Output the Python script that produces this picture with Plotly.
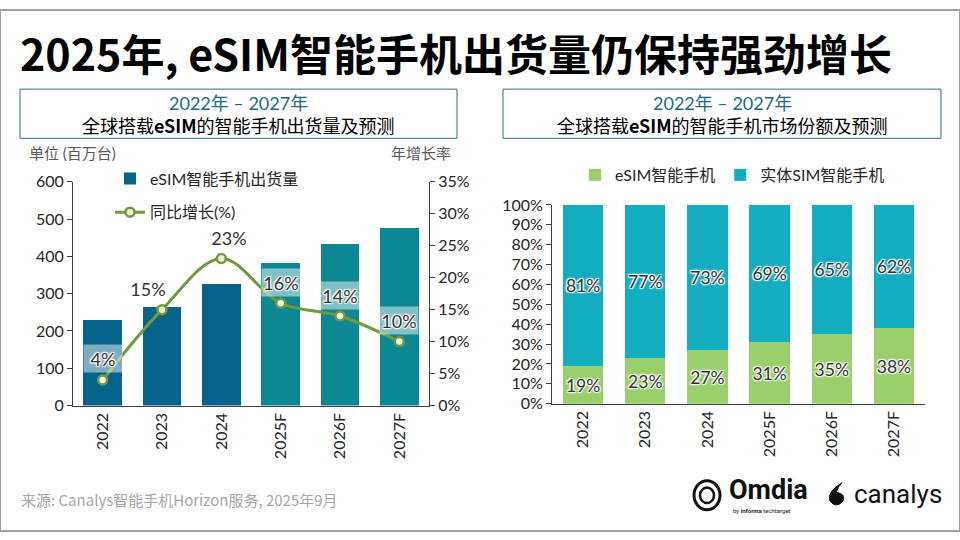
import plotly.graph_objects as go

# ---------------- data ----------------
years = ["2022", "2023", "2024", "2025F", "2026F", "2027F"]
shipments = [230, 264, 326, 381, 432, 476]          # million units
growth = [4, 15, 23, 16, 14, 10]                    # YoY %
esim_share = [19, 23, 27, 31, 35, 38]               # %
physical_share = [81, 77, 73, 69, 65, 62]           # %

W, H = 960, 540
def fx(px): return px / W
def fy(py): return 1 - py / H

FONT = "Lato, 'Noto Sans CJK SC', sans-serif"
CJK = "'Noto Sans CJK SC', sans-serif"
HALO = "1px 1px 1px #fff, -1px -1px 1px #fff, 1px -1px 1px #fff, -1px 1px 1px #fff, 0 0 3px #fff"

bar_colors = ["#05638c"] * 3 + ["#0b8894"] * 3

fig = go.Figure()

# ---- left chart ----
fig.add_trace(go.Bar(
    x=years, y=shipments, name="eSIM智能手机出货量",
    marker=dict(color=bar_colors, line=dict(width=0)),
    xaxis="x", yaxis="y", legend="legend", legendgroup="a",
))
fig.add_trace(go.Scatter(
    x=years, y=growth, name="同比增长(%)", mode="lines+markers",
    line=dict(color="#6f9a3d", width=3, shape="spline", smoothing=1),
    marker=dict(size=9, color="#eef4d6", line=dict(color="#6f9a3d", width=2.5)),
    xaxis="x", yaxis="y2", legend="legend", legendgroup="b",
))

# ---- right chart ----
for vals, name, col in [(esim_share, "eSIM智能手机", "#99d06b"),
                        (physical_share, "实体SIM智能手机", "#12adc1")]:
    fig.add_trace(go.Bar(
        x=years, y=vals, name=name,
        marker=dict(color=col, line=dict(width=0)),
        text=[f"{v}%" for v in vals], textposition="inside", textangle=0,
        insidetextanchor="middle",
        textfont=dict(size=18, color="#333333", family=FONT, shadow=HALO),
        xaxis="x3", yaxis="y3", legend="legend2",
    ))

axis_common = dict(
    showgrid=False, zeroline=False, showline=True, linecolor="#404040", linewidth=1,
    ticks="outside", ticklen=5, tickcolor="#404040",
    tickfont=dict(size=16, color="#262626", family=FONT),
)
xaxis_common = {**axis_common, "ticks": "", "type": "category", "tickangle": -90,
                "range": [-0.5, len(years) - 0.5], "autorange": False}

annotations = []
# growth labels (category index positions)
xshifts = [0, -14, 8, 0, 0, 0]
for i, g in enumerate(growth):
    annotations.append(dict(
        x=i, y=g, xref="x", yref="y2", text=f"{g}%", showarrow=False,
        yshift=21, xshift=xshifts[i], width=36, height=25,
        bgcolor="rgba(255,255,255,0.48)",
        font=dict(size=18, color="#333333", family=FONT, shadow=HALO),
    ))

# title
annotations.append(dict(
    x=fx(18), y=fy(44), xref="paper", yref="paper", xanchor="left", yanchor="middle",
    text="<b>2025年, eSIM智能手机出货量仍保持强劲增长</b>", showarrow=False,
    font=dict(size=43, color="#000000", family=CJK),
))
# box headers
for cx, line2 in [(238.5, "全球搭载<b>eSIM</b>的智能手机出货量及预测"),
                  (722, "全球搭载<b>eSIM</b>的智能手机市场份额及预测")]:
    annotations.append(dict(
        x=fx(cx), y=fy(96), xref="paper", yref="paper", xanchor="center", yanchor="middle",
        text="2022年 – 2027年", showarrow=False,
        font=dict(size=18, color="#1c6a86", family=FONT),
    ))
    annotations.append(dict(
        x=fx(cx), y=fy(119), xref="paper", yref="paper", xanchor="center", yanchor="middle",
        text=line2, showarrow=False,
        font=dict(size=18, color="#000000", family=CJK),
    ))
# axis titles
annotations.append(dict(
    x=fx(27), y=fy(148), xref="paper", yref="paper", xanchor="left", yanchor="middle",
    text="单位 (百万台)", showarrow=False, font=dict(size=15, color="#595959", family=FONT)))
annotations.append(dict(
    x=fx(453), y=fy(148), xref="paper", yref="paper", xanchor="right", yanchor="middle",
    text="年增长率", showarrow=False, font=dict(size=15, color="#595959", family=FONT)))
# footer
annotations.append(dict(
    x=fx(19), y=fy(507), xref="paper", yref="paper", xanchor="left", yanchor="middle",
    text="来源: Canalys智能手机Horizon服务, 2025年9月", showarrow=False,
    font=dict(size=15, color="#a6a6a6", family=CJK)))
annotations.append(dict(
    x=fx(727), y=fy(497), xref="paper", yref="paper", xanchor="left", yanchor="middle",
    text="<b>Omdia</b>", showarrow=False, font=dict(size=27, color="#111111", family="Roboto")))
annotations.append(dict(
    x=fx(731), y=fy(519), xref="paper", yref="paper", xanchor="left", yanchor="middle",
    text="by <b>informa</b> techtarget", showarrow=False, font=dict(size=6, color="#222222", family="Roboto")))
annotations.append(dict(
    x=fx(852), y=fy(502), xref="paper", yref="paper", xanchor="left", yanchor="middle",
    text="canalys", showarrow=False, font=dict(size=26, color="#111111", family="Roboto")))

shapes = [
    dict(type="rect", xref="paper", yref="paper", x0=0, x1=1, y0=0, y1=1,
         line=dict(color="#a0a0a0", width=2)),
    dict(type="rect", xref="paper", yref="paper", x0=fx(20), x1=fx(457), y0=fy(133), y1=fy(82),
         line=dict(color="#2f6f7e", width=1)),
    dict(type="rect", xref="paper", yref="paper", x0=fx(503), x1=fx(941), y0=fy(133), y1=fy(82),
         line=dict(color="#2f6f7e", width=1)),
    dict(type="circle", xref="paper", yref="paper", x0=fx(694), x1=fx(720), y0=fy(518), y1=fy(488),
         line=dict(color="#111111", width=3)),
    dict(type="circle", xref="paper", yref="paper", x0=fx(700), x1=fx(714), y0=fy(511), y1=fy(495),
         line=dict(color="#111111", width=2.5)),
    dict(type="path", xref="paper", yref="paper",
         path=f"M {fx(842)},{fy(490)} Q {fx(826)},{fy(500)} {fx(830)},{fy(509)} "
              f"Q {fx(836)},{fy(517)} {fx(843)},{fy(509)} Q {fx(846)},{fy(501)} {fx(836)},{fy(500)} "
              f"Q {fx(838)},{fy(494)} {fx(842)},{fy(490)} Z",
         fillcolor="#111111", line=dict(color="#111111", width=1)),
]

fig.update_layout(
    width=W, height=H, margin=dict(l=0, r=0, t=0, b=0),
    paper_bgcolor="white", plot_bgcolor="rgba(0,0,0,0)",
    barmode="stack", bargap=0.35,
    font=dict(family=FONT, color="#262626"),
    xaxis=dict(domain=[fx(73), fx(429)], anchor="y", **xaxis_common),
    yaxis=dict(domain=[fy(410), fy(178)], anchor="x", range=[0, 600], dtick=100,
               **axis_common),
    yaxis2=dict(overlaying="y", side="right", anchor="x", range=[0, 35], dtick=5,
                ticksuffix="%", **axis_common),
    xaxis3=dict(domain=[fx(552), fx(925)], anchor="y3", **xaxis_common),
    yaxis3=dict(domain=[fy(408), fy(202)], anchor="x3", range=[0, 100], dtick=10,
                ticksuffix="%", **axis_common),
    legend=dict(x=fx(110), y=fy(157), xanchor="left", yanchor="top",
                traceorder="grouped", tracegroupgap=10, bgcolor="rgba(0,0,0,0)",
                font=dict(size=16, color="#262626", family=FONT)),
    legend2=dict(x=fx(575), y=fy(171), xanchor="left", yanchor="middle", orientation="h",
                 traceorder="normal",
                 bgcolor="rgba(0,0,0,0)", font=dict(size=16, color="#262626", family=FONT)),
    annotations=annotations, shapes=shapes,
)

fig.write_html("out.html", config={"displayModeBar": False},
               post_script="document.body.style.margin='0';")
